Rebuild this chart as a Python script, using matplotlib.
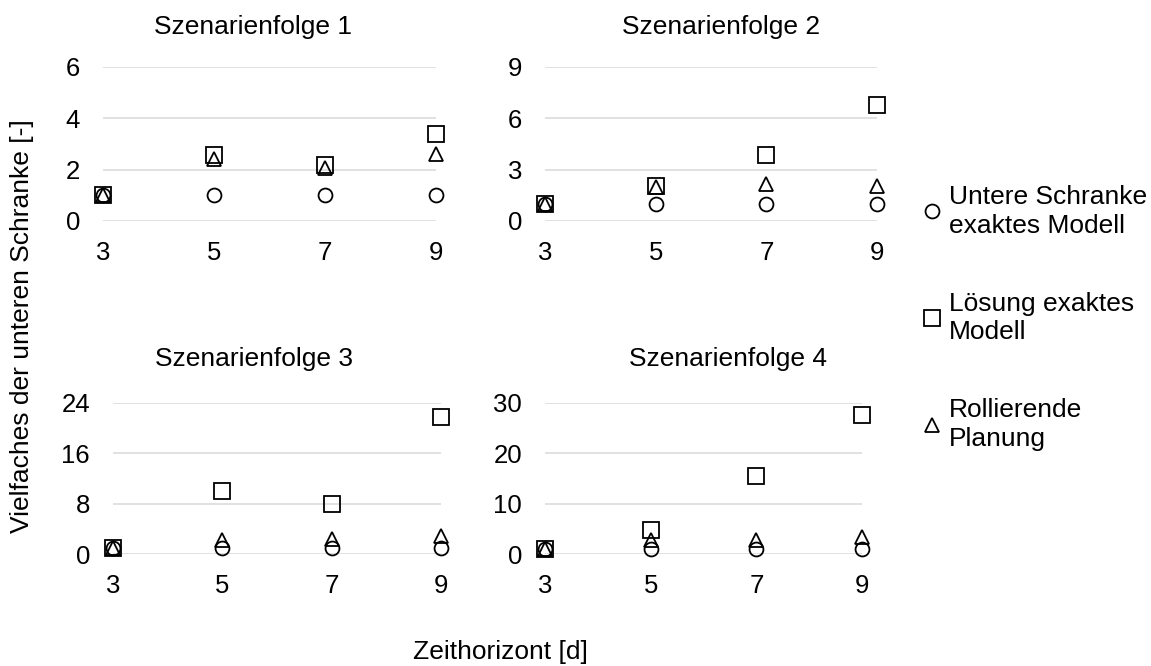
import matplotlib
matplotlib.use("Agg")
import matplotlib.pyplot as plt

plt.rcParams['font.family'] = ['Liberation Sans', 'DejaVu Sans']

W, H = 1151, 666

x_vals = [3, 5, 7, 9]
titles = ["Szenarienfolge 1", "Szenarienfolge 2", "Szenarienfolge 3", "Szenarienfolge 4"]

lower_bound = {
    1: [1, 1, 1, 1],
    2: [1, 1, 1, 1],
    3: [1, 1, 1, 1],
    4: [1, 1, 1, 1],
}
exact_model = {
    1: [1, 2.57, 2.2, 3.39],
    2: [1, 2.05, 3.86, 6.76],
    3: [1, 10.0, 7.9, 21.7],
    4: [1, 4.8, 15.4, 27.6],
}
rolling_plan = {
    1: [1, 2.43, 2.08, 2.6],
    2: [1, 2.0, 2.18, 2.03],
    3: [1, 2.3, 2.4, 2.9],
    4: [1, 2.7, 2.8, 3.3],
}
y_ticks = {
    1: [0, 2, 4, 6],
    2: [0, 3, 6, 9],
    3: [0, 8, 16, 24],
    4: [0, 10, 20, 30],
}
series_labels = ["Untere Schranke\nexaktes Modell", "Lösung exaktes\nModell", "Rollierende\nPlanung"]

# axes boxes in pixels: (left, right, top, bottom)
boxes = {
    1: (103, 436, 67, 221),
    2: (545, 877, 67, 221),
    3: (113, 441, 403, 554),
    4: (545, 862, 403, 554),
}
title_pos = {1: (253, 27), 2: (721, 27), 3: (254, 359), 4: (728, 359)}

fig = plt.figure(figsize=(W / 100, H / 100), dpi=100)

FS_TICK = 18.5
FS_TEXT = 19

marker_kw = dict(linestyle='none', markerfacecolor='none', markeredgecolor='black',
                 markeredgewidth=1.3, clip_on=False)

handles = None
for k in [1, 2, 3, 4]:
    l, r, t, b = boxes[k]
    ax = fig.add_axes([l / W, 1 - b / H, (r - l) / W, (b - t) / H])
    h1, = ax.plot(x_vals, lower_bound[k], marker='o', markersize=10, **marker_kw)
    h2, = ax.plot(x_vals, exact_model[k], marker='s', markersize=11, **marker_kw)
    h3, = ax.plot(x_vals, rolling_plan[k], marker='^', markersize=10.5, **marker_kw)
    if handles is None:
        handles = [h1, h2, h3]
    yt = y_ticks[k]
    ax.set_xlim(3, 9)
    ax.set_ylim(yt[0], yt[-1])
    ax.set_xticks(x_vals)
    ax.set_yticks(yt)
    ax.tick_params(axis='both', length=0, labelsize=FS_TICK, colors='black')
    ax.tick_params(axis='y', pad=16.5)
    ax.tick_params(axis='x', pad=14.5)
    ax.grid(axis='y', color='#d9d9d9', linewidth=1.1)
    ax.set_axisbelow(True)
    for s in ax.spines.values():
        s.set_visible(False)
    tx, ty = title_pos[k]
    fig.text(tx / W, 1 - ty / H, titles[k - 1], ha='center', va='center', fontsize=FS_TEXT)

fig.text(22 / W, 1 - 326 / H, "Vielfaches der unteren Schranke [-]", rotation=90,
         ha='center', va='center', fontsize=FS_TEXT)
fig.text(500 / W, 1 - 652 / H, "Zeithorizont [d]", ha='center', va='center', fontsize=FS_TEXT)

leg = fig.legend(handles, series_labels, loc='center left',
                 bbox_to_anchor=(924 / W, 1 - 318 / H), frameon=False,
                 fontsize=FS_TEXT, labelspacing=2.05, handlelength=0.6,
                 handletextpad=0.35, borderpad=0, borderaxespad=0)
for txt in leg.get_texts():
    txt.set_linespacing(1.25)

fig.savefig("out.png", dpi=100)
